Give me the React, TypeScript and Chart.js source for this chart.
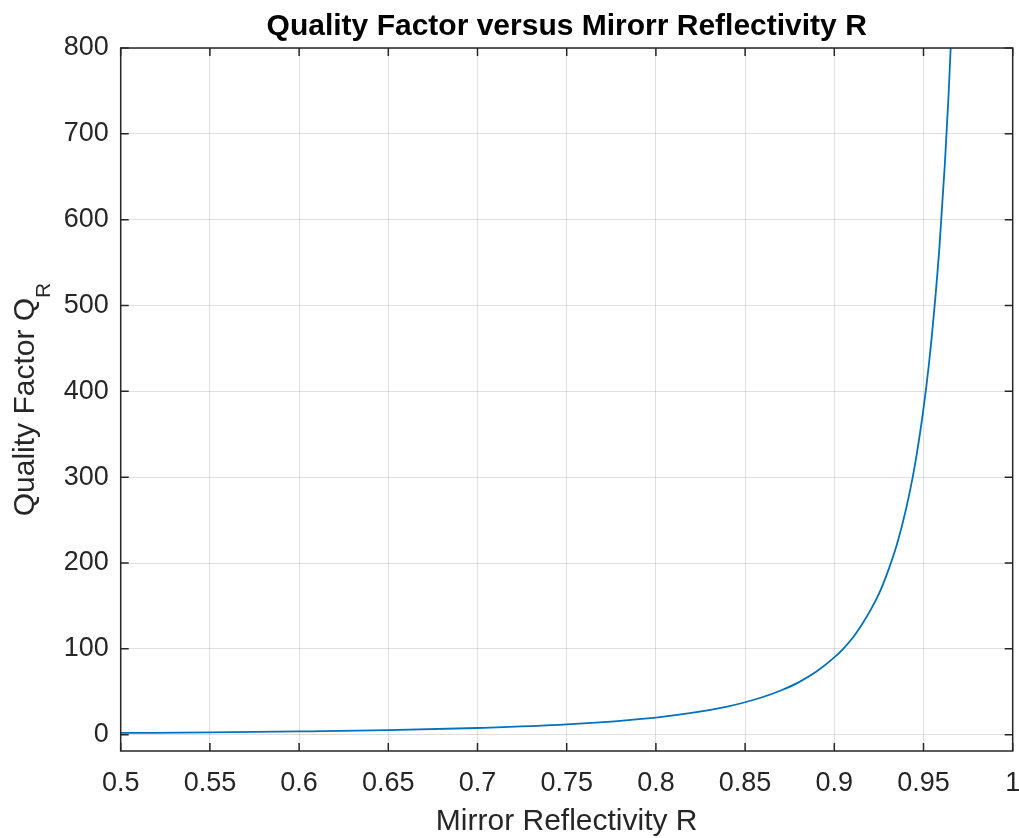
import React, { useEffect, useRef } from "react";
import { Chart, registerables } from "chart.js";

Chart.register(...registerables);

// Mirror reflectivity R (x) and quality factor Q_R (y)
const reflectivity = [
  0.5, 0.55, 0.6, 0.65, 0.7, 0.75, 0.8, 0.82, 0.84, 0.85, 0.86, 0.87, 0.88, 0.89,
  0.9, 0.905, 0.91, 0.915, 0.92, 0.925, 0.93, 0.935, 0.94, 0.945, 0.95, 0.953,
  0.956, 0.959, 0.962, 0.964, 0.966, 0.967,
];
const qualityFactor = [
  2, 2.7, 3.8, 5.3, 7.8, 12, 20, 25.3, 32.8, 37.8, 43.9, 51.5, 61, 73.5, 90,
  100, 112, 127, 144, 164, 190, 221, 261, 312, 380, 431, 494, 570, 666, 743,
  836, 894,
];

const xTickValues = [0.5, 0.55, 0.6, 0.65, 0.7, 0.75, 0.8, 0.85, 0.9, 0.95, 1];
const yTickValues = [0, 100, 200, 300, 400, 500, 600, 700, 800];

const titleText = "Quality Factor versus Mirorr Reflectivity R";
const xLabelText = "Mirror Reflectivity R";
const yLabelMain = "Quality Factor Q";
const yLabelSub = "R";

const xMin = 0.5;
const xMax = 1;
const yMin = -19;
const yMax = 800;

const FONT = "'Liberation Sans', Arial, Helvetica, sans-serif";
const AXIS_COLOR = "#262626";

const framePlugin = {
  id: "matlabFrame",
  afterDraw(chart: any) {
    const { ctx, chartArea } = chart;
    const { left, right, top, bottom } = chartArea;
    const xs = chart.scales.x;
    const ys = chart.scales.y;
    ctx.save();
    ctx.strokeStyle = AXIS_COLOR;
    ctx.lineWidth = 1.5;
    const tl = 8;
    ctx.beginPath();
    xs.ticks.forEach((t: any) => {
      const px = xs.getPixelForValue(t.value);
      ctx.moveTo(px, bottom);
      ctx.lineTo(px, bottom - tl);
      ctx.moveTo(px, top);
      ctx.lineTo(px, top + tl);
    });
    ys.ticks.forEach((t: any) => {
      const py = ys.getPixelForValue(t.value);
      ctx.moveTo(left, py);
      ctx.lineTo(left + tl, py);
      ctx.moveTo(right, py);
      ctx.lineTo(right - tl, py);
    });
    ctx.stroke();
    ctx.strokeRect(left, top, right - left, bottom - top);

    // title
    ctx.fillStyle = "#000";
    ctx.font = `bold 30px ${FONT}`;
    ctx.textAlign = "center";
    ctx.textBaseline = "alphabetic";
    ctx.fillText(titleText, (left + right) / 2, 35);

    // x label
    ctx.fillStyle = AXIS_COLOR;
    ctx.font = `30px ${FONT}`;
    ctx.fillText(xLabelText, (left + right) / 2, 830);

    // y label with subscript
    ctx.font = `30px ${FONT}`;
    const mainW = ctx.measureText(yLabelMain).width;
    ctx.font = `21px ${FONT}`;
    const subW = ctx.measureText(yLabelSub).width;
    const total = mainW + subW;
    ctx.translate(33.5, (top + bottom) / 2);
    ctx.rotate(-Math.PI / 2);
    ctx.textAlign = "left";
    ctx.font = `30px ${FONT}`;
    ctx.fillText(yLabelMain, -total / 2, 0);
    ctx.font = `21px ${FONT}`;
    ctx.fillText(yLabelSub, -total / 2 + mainW, 16);
    ctx.restore();
  },
};

export default function App() {
  const canvasRef = useRef<HTMLCanvasElement | null>(null);

  useEffect(() => {
    const canvas = canvasRef.current;
    if (!canvas) return;
    const points = reflectivity.map((r, i) => ({ x: r, y: qualityFactor[i] }));
    const chart = new Chart(canvas, {
      type: "line",
      data: {
        datasets: [
          {
            data: points,
            borderColor: "#0072BD",
            borderWidth: 1.8,
            pointRadius: 0,
            fill: false,
            cubicInterpolationMode: "monotone",
          },
        ],
      },
      options: {
        animation: false,
        responsive: false,
        devicePixelRatio: 1,
        layout: { padding: { left: 0, right: 6.3, top: 48, bottom: 0 } },
        plugins: {
          legend: { display: false },
          tooltip: { enabled: false },
          title: { display: false },
        },
        scales: {
          x: {
            type: "linear",
            min: xMin,
            max: xMax,
            afterBuildTicks: (scale: any) => {
              scale.ticks = xTickValues.map((v) => ({ value: v }));
            },
            afterFit: (scale: any) => {
              scale.height = 87;
              scale.paddingLeft = 0;
              scale.paddingRight = 0;
            },
            ticks: {
              autoSkip: false,
              maxRotation: 0,
              padding: 16,
              color: AXIS_COLOR,
              font: { family: FONT, size: 27 },
              callback: (v: any) => String(Math.round(Number(v) * 100) / 100),
            },
            grid: {
              color: "rgba(38,38,38,0.15)",
              lineWidth: 1,
              drawTicks: false,
            },
            border: { display: false },
          },
          y: {
            type: "linear",
            min: yMin,
            max: yMax,
            afterBuildTicks: (scale: any) => {
              scale.ticks = yTickValues.map((v) => ({ value: v }));
            },
            afterFit: (scale: any) => {
              scale.width = 120.7;
              scale.paddingTop = 0;
              scale.paddingBottom = 0;
            },
            ticks: {
              padding: 12,
              color: AXIS_COLOR,
              font: { family: FONT, size: 27 },
              callback: (v: any) => String(v),
            },
            grid: {
              color: "rgba(38,38,38,0.15)",
              lineWidth: 1,
              drawTicks: false,
            },
            border: { display: false },
          },
        },
      },
      plugins: [framePlugin],
    } as any);
    return () => chart.destroy();
  }, []);

  return (
    <div
      style={{
        position: "fixed",
        left: 0,
        top: 0,
        width: 1019,
        height: 838,
        background: "#fff",
      }}
    >
      <canvas ref={canvasRef} width={1019} height={838} />
    </div>
  );
}
